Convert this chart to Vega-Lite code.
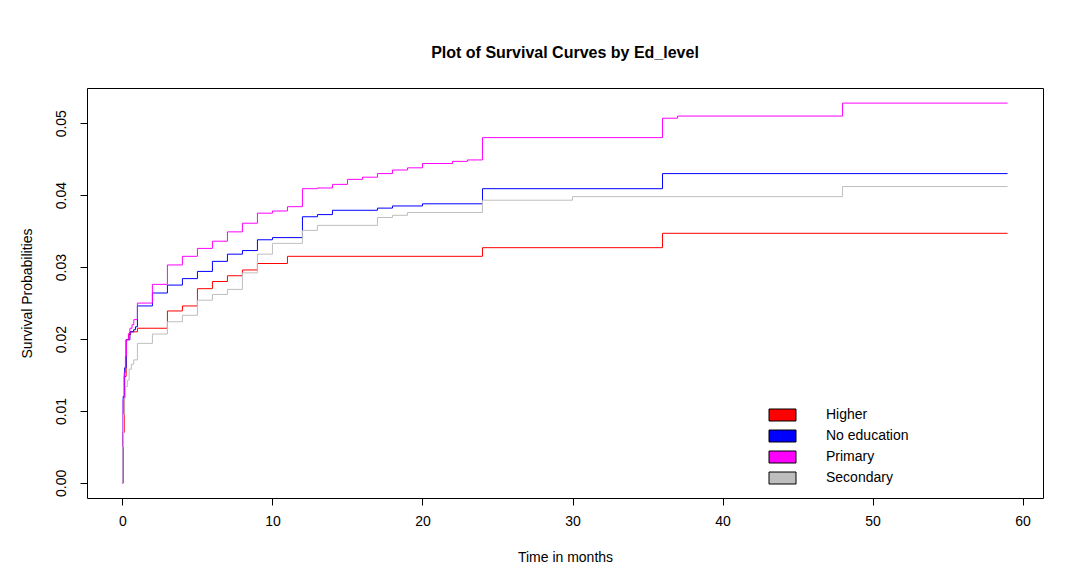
{
  "$schema": "https://vega.github.io/schema/vega-lite/v6.json",
  "width": 956,
  "height": 410,
  "autosize": {"type": "none"},
  "padding": {"left": 87, "top": 88, "right": 30, "bottom": 86},
  "background": "white",
  "title": {
    "text": "Plot of Survival Curves by Ed_level",
    "font": "Liberation Sans",
    "fontSize": 16,
    "fontWeight": "bold",
    "color": "black",
    "anchor": "middle",
    "baseline": "alphabetic",
    "offset": 14
  },
  "data": {
    "values": [
      {"group": "Higher", "time": 0, "prob": 0},
      {"group": "Higher", "time": 0.05, "prob": 0.007},
      {"group": "Higher", "time": 0.12, "prob": 0.0148},
      {"group": "Higher", "time": 0.25, "prob": 0.0199},
      {"group": "Higher", "time": 0.4, "prob": 0.0206},
      {"group": "Higher", "time": 0.55, "prob": 0.021},
      {"group": "Higher", "time": 1, "prob": 0.0215},
      {"group": "Higher", "time": 3, "prob": 0.0239},
      {"group": "Higher", "time": 4, "prob": 0.0246},
      {"group": "Higher", "time": 5, "prob": 0.027},
      {"group": "Higher", "time": 6, "prob": 0.028},
      {"group": "Higher", "time": 7, "prob": 0.0288},
      {"group": "Higher", "time": 8, "prob": 0.0296},
      {"group": "Higher", "time": 9, "prob": 0.0305},
      {"group": "Higher", "time": 11, "prob": 0.0315},
      {"group": "Higher", "time": 24, "prob": 0.0327},
      {"group": "Higher", "time": 36, "prob": 0.0347},
      {"group": "Higher", "time": 59, "prob": 0.0347},

      {"group": "No education", "time": 0, "prob": 0},
      {"group": "No education", "time": 0.05, "prob": 0.012},
      {"group": "No education", "time": 0.15, "prob": 0.016},
      {"group": "No education", "time": 0.25, "prob": 0.0199},
      {"group": "No education", "time": 0.5, "prob": 0.021},
      {"group": "No education", "time": 0.75, "prob": 0.0213},
      {"group": "No education", "time": 0.87, "prob": 0.0217},
      {"group": "No education", "time": 1, "prob": 0.0246},
      {"group": "No education", "time": 2, "prob": 0.0264},
      {"group": "No education", "time": 3, "prob": 0.0275},
      {"group": "No education", "time": 4, "prob": 0.0284},
      {"group": "No education", "time": 5, "prob": 0.0294},
      {"group": "No education", "time": 6, "prob": 0.0308},
      {"group": "No education", "time": 7, "prob": 0.0318},
      {"group": "No education", "time": 8, "prob": 0.0323},
      {"group": "No education", "time": 9, "prob": 0.0338},
      {"group": "No education", "time": 10, "prob": 0.0341},
      {"group": "No education", "time": 12, "prob": 0.037},
      {"group": "No education", "time": 13, "prob": 0.0373},
      {"group": "No education", "time": 14, "prob": 0.0379},
      {"group": "No education", "time": 17, "prob": 0.0382},
      {"group": "No education", "time": 18, "prob": 0.0385},
      {"group": "No education", "time": 20, "prob": 0.0388},
      {"group": "No education", "time": 24, "prob": 0.0409},
      {"group": "No education", "time": 36, "prob": 0.043},
      {"group": "No education", "time": 59, "prob": 0.043},

      {"group": "Primary", "time": 0, "prob": 0},
      {"group": "Primary", "time": 0.05, "prob": 0.0116},
      {"group": "Primary", "time": 0.12, "prob": 0.0153},
      {"group": "Primary", "time": 0.2, "prob": 0.0176},
      {"group": "Primary", "time": 0.27, "prob": 0.0199},
      {"group": "Primary", "time": 0.42, "prob": 0.0208},
      {"group": "Primary", "time": 0.5, "prob": 0.0215},
      {"group": "Primary", "time": 0.64, "prob": 0.022},
      {"group": "Primary", "time": 0.76, "prob": 0.0227},
      {"group": "Primary", "time": 1, "prob": 0.025},
      {"group": "Primary", "time": 2, "prob": 0.0276},
      {"group": "Primary", "time": 3, "prob": 0.0303},
      {"group": "Primary", "time": 4, "prob": 0.0315},
      {"group": "Primary", "time": 5, "prob": 0.0326},
      {"group": "Primary", "time": 6, "prob": 0.0336},
      {"group": "Primary", "time": 7, "prob": 0.0349},
      {"group": "Primary", "time": 8, "prob": 0.0361},
      {"group": "Primary", "time": 9, "prob": 0.0375},
      {"group": "Primary", "time": 10, "prob": 0.0378},
      {"group": "Primary", "time": 11, "prob": 0.0384},
      {"group": "Primary", "time": 12, "prob": 0.0409},
      {"group": "Primary", "time": 13, "prob": 0.041},
      {"group": "Primary", "time": 14, "prob": 0.0415},
      {"group": "Primary", "time": 15, "prob": 0.0422},
      {"group": "Primary", "time": 16, "prob": 0.0425},
      {"group": "Primary", "time": 17, "prob": 0.043},
      {"group": "Primary", "time": 18, "prob": 0.0435},
      {"group": "Primary", "time": 19, "prob": 0.0438},
      {"group": "Primary", "time": 20, "prob": 0.0444},
      {"group": "Primary", "time": 22, "prob": 0.0447},
      {"group": "Primary", "time": 23, "prob": 0.0449},
      {"group": "Primary", "time": 24, "prob": 0.048},
      {"group": "Primary", "time": 36, "prob": 0.0507},
      {"group": "Primary", "time": 37, "prob": 0.051},
      {"group": "Primary", "time": 48, "prob": 0.0528},
      {"group": "Primary", "time": 59, "prob": 0.0528},

      {"group": "Secondary", "time": 0, "prob": 0},
      {"group": "Secondary", "time": 0.03, "prob": 0.005},
      {"group": "Secondary", "time": 0.07, "prob": 0.0095},
      {"group": "Secondary", "time": 0.12, "prob": 0.0118},
      {"group": "Secondary", "time": 0.2, "prob": 0.0134},
      {"group": "Secondary", "time": 0.33, "prob": 0.0143},
      {"group": "Secondary", "time": 0.45, "prob": 0.0158},
      {"group": "Secondary", "time": 0.6, "prob": 0.0165},
      {"group": "Secondary", "time": 0.75, "prob": 0.0171},
      {"group": "Secondary", "time": 1, "prob": 0.0194},
      {"group": "Secondary", "time": 2, "prob": 0.0207},
      {"group": "Secondary", "time": 3, "prob": 0.0224},
      {"group": "Secondary", "time": 4, "prob": 0.0233},
      {"group": "Secondary", "time": 5, "prob": 0.0254},
      {"group": "Secondary", "time": 6, "prob": 0.0262},
      {"group": "Secondary", "time": 7, "prob": 0.0269},
      {"group": "Secondary", "time": 8, "prob": 0.0292},
      {"group": "Secondary", "time": 9, "prob": 0.0318},
      {"group": "Secondary", "time": 10, "prob": 0.0333},
      {"group": "Secondary", "time": 12, "prob": 0.0351},
      {"group": "Secondary", "time": 13, "prob": 0.0358},
      {"group": "Secondary", "time": 17, "prob": 0.0369},
      {"group": "Secondary", "time": 18, "prob": 0.0372},
      {"group": "Secondary", "time": 19, "prob": 0.0376},
      {"group": "Secondary", "time": 24, "prob": 0.0393},
      {"group": "Secondary", "time": 30, "prob": 0.0398},
      {"group": "Secondary", "time": 48, "prob": 0.0412},
      {"group": "Secondary", "time": 59, "prob": 0.0412}
    ]
  },
  "encoding": {
    "x": {
      "field": "time",
      "type": "quantitative",
      "scale": {"domain": [-2.36, 61.36], "nice": false, "zero": false},
      "axis": {
        "title": "Time in months",
        "values": [0, 10, 20, 30, 40, 50, 60],
        "format": "d",
        "labelPadding": 9,
        "titlePadding": 22,
        "labelFlush": false,
        "labelOverlap": false
      }
    },
    "y": {
      "field": "prob",
      "type": "quantitative",
      "scale": {"domain": [-0.0021, 0.0549], "nice": false, "zero": false},
      "axis": {
        "title": "Survival Probabilities",
        "values": [0, 0.01, 0.02, 0.03, 0.04, 0.05],
        "format": ".2f",
        "labelAngle": 270,
        "labelAlign": "center",
        "labelBaseline": "bottom",
        "labelPadding": 12,
        "titlePadding": 20,
        "labelFlush": false,
        "labelOverlap": false
      }
    }
  },
  "layer": [
    {
      "mark": {"type": "line", "interpolate": "step-after", "strokeWidth": 1, "clip": true},
      "encoding": {
        "stroke": {
          "field": "group",
          "type": "nominal",
          "scale": {
            "domain": ["Secondary", "Primary", "No education", "Higher"],
            "range": ["#BEBEBE", "#FF00FF", "#0000FF", "#FF0000"]
          },
          "legend": null
        }
      }
    },
    {
      "transform": [{"filter": "datum.time < -100"}],
      "mark": {"type": "point", "filled": true, "stroke": "black", "strokeWidth": 1},
      "encoding": {
        "fill": {
          "field": "group",
          "type": "nominal",
          "scale": {
            "domain": ["Higher", "No education", "Primary", "Secondary"],
            "range": ["#FF0000", "#0000FF", "#FF00FF", "#BEBEBE"]
          },
          "legend": {
            "title": null,
            "orient": "none",
            "legendX": 688.5,
            "legendY": 320,
            "padding": 0,
            "symbolType": "M-2.25,-1H2.25V1H-2.25Z",
            "symbolSize": 144,
            "symbolStrokeWidth": 1,
            "symbolStrokeColor": "black",
            "symbolOpacity": 1,
            "labelOffset": 36.5,
            "labelFontSize": 14,
            "labelFont": "Liberation Sans",
            "labelColor": "black",
            "rowPadding": 5
          }
        }
      }
    }
  ],
  "config": {
    "view": {"stroke": "black", "strokeWidth": 1},
    "font": "Liberation Sans",
    "axis": {
      "grid": false,
      "domain": false,
      "tickColor": "black",
      "tickSize": 7,
      "tickWidth": 1,
      "labelColor": "black",
      "titleColor": "black",
      "labelFont": "Liberation Sans",
      "titleFont": "Liberation Sans",
      "labelFontSize": 14,
      "titleFontSize": 14,
      "titleFontWeight": "normal"
    }
  }
}
